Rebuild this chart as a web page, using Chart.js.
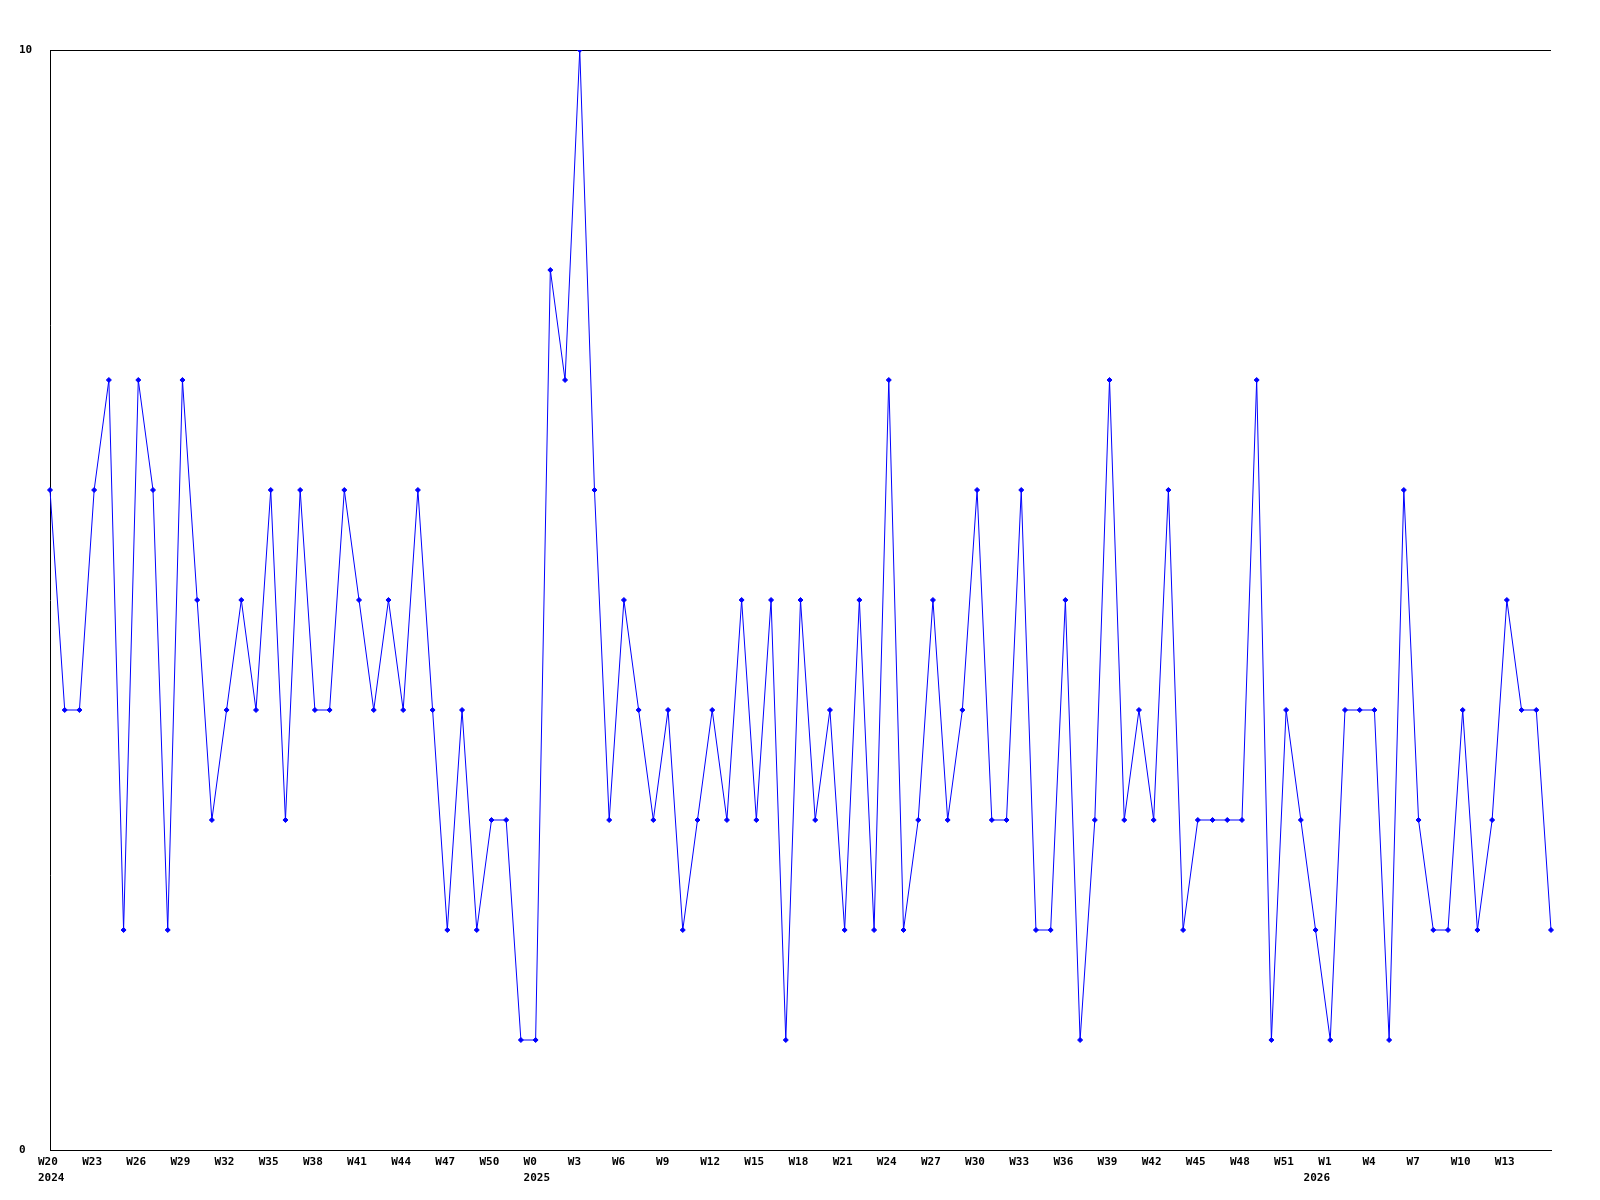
<!DOCTYPE html>
<html lang="en">
<head>
  <meta charset="UTF-8" />
  <title>Weekly count</title>
  <script src="https://cdn.jsdelivr.net/npm/chart.js"></script>
  <style>
    body { margin: 0; background: #fff; }
    #wrap { width: 1600px; height: 1200px; }
  </style>
</head>
<body>
  <div id="wrap">
    <canvas id="weekChart" width="1600" height="1200"></canvas>
  </div>

  <script>
    // week labels, one block per year
    const years = ['2024', '2025', '2026'];
    const weeks2024 = ['W20','W21','W22','W23','W24','W25','W26','W27','W28','W29','W30','W31','W32','W33','W34','W35','W36',
      'W37','W38','W39','W40','W41','W42','W43','W44','W45','W46','W47','W48','W49','W50','W51','W52'];
    const weeks2025 = ['W0','W1','W2','W3','W4','W5','W6','W7','W8','W9','W10','W11','W12','W13','W14','W15','W16','W17',
      'W18','W19','W20','W21','W22','W23','W24','W25','W26','W27','W28','W29','W30','W31','W32','W33','W34','W35',
      'W36','W37','W38','W39','W40','W41','W42','W43','W44','W45','W46','W47','W48','W49','W50','W51','W52'];
    const weeks2026 = ['W0','W1','W2','W3','W4','W5','W6','W7','W8','W9','W10','W11','W12','W13','W14','W15','W16'];

    const counts = [
      6,4,4,6,7,2,7,6,2,7,
      5,3,4,5,4,6,3,6,4,4,
      6,5,4,5,4,6,4,2,4,2,
      3,3,1,1,8,7,10,6,3,5,
      4,3,4,2,3,4,3,5,3,5,
      1,5,3,4,2,5,2,7,2,3,
      5,3,4,6,3,3,6,2,2,5,
      1,3,7,3,4,3,6,2,3,3,
      3,3,7,1,4,3,2,1,4,4,
      4,1,6,3,2,2,4,2,3,5,
      4,4,2
    ];

    const yTicks = [0, 10];
    const labelStep = 3;

    const weekBlocks = [weeks2024, weeks2025, weeks2026];
    const labels = [];
    const yearOf = [];
    weekBlocks.forEach((blk, b) => {
      blk.forEach(w => { labels.push(w); yearOf.push(years[b]); });
    });

    const tickFont = { family: "'DejaVu Sans Mono', monospace", size: 11, weight: 'bold', lineHeight: 1.48 };

    const ctx = document.getElementById('weekChart').getContext('2d');
    new Chart(ctx, {
      type: 'line',
      data: {
        labels: labels,
        datasets: [{
          data: counts,
          borderColor: '#0000ff',
          backgroundColor: '#0000ff',
          borderWidth: 1,
          tension: 0,
          fill: false,
          pointStyle: 'rectRot',
          pointRadius: 2.5,
          pointBorderWidth: 1,
          pointHoverRadius: 2.5
        }]
      },
      options: {
        responsive: false,
        animation: false,
        devicePixelRatio: 1,
        layout: { padding: { left: 19, top: 50, right: 49, bottom: 0 } },
        plugins: {
          legend: { display: false },
          tooltip: { enabled: false }
        },
        scales: {
          x: {
            offset: false,
            grid: { display: false, drawTicks: false },
            border: { display: true, color: '#000', width: 1 },
            afterFit: s => { s.height = 50; },
            ticks: {
              autoSkip: false,
              maxRotation: 0,
              align: 'start',
              labelOffset: -12,
              padding: 4,
              color: '#000',
              font: tickFont,
              callback: function (val, i) {
                const yearStart = i === 0 || yearOf[i - 1] !== yearOf[i];
                const showWeek = i % labelStep === 0 && i <= labels.length - 1 - labelStep;
                if (yearStart) return [showWeek ? labels[i] : '', yearOf[i]];
                if (showWeek) return labels[i];
                return null;
              }
            }
          },
          y: {
            min: 0,
            max: 10,
            afterBuildTicks: s => { s.ticks = yTicks.map(v => ({ value: v })); },
            afterFit: s => { s.width = 31; },
            grid: { display: true, color: '#000', lineWidth: 1, drawTicks: false },
            border: { display: true, color: '#000', width: 1 },
            ticks: {
              crossAlign: 'far',
              padding: 0,
              color: '#000',
              font: tickFont
            }
          }
        }
      }
    });
  </script>
</body>
</html>
